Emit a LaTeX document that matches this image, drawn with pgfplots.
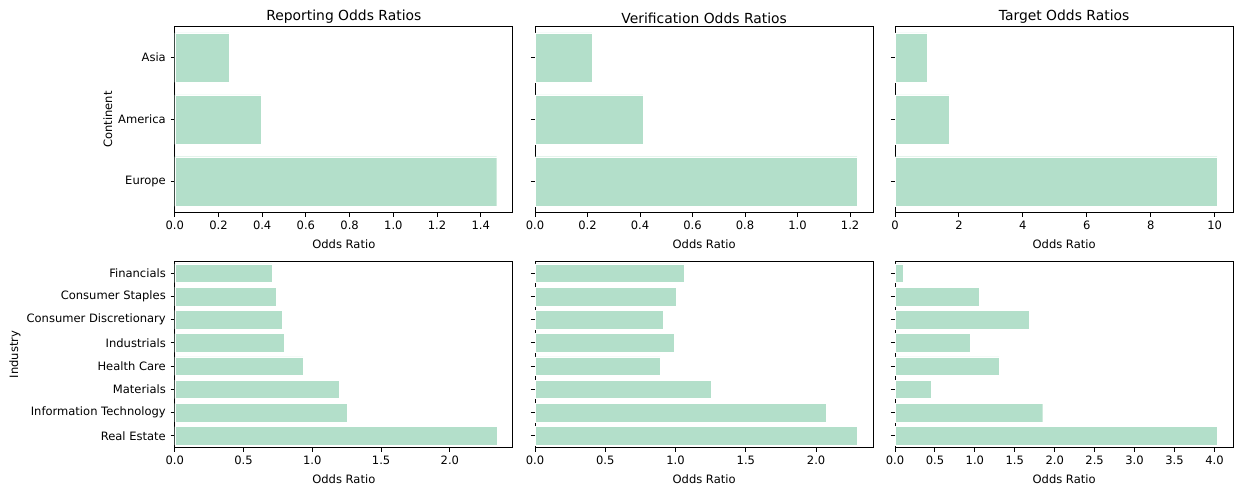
\documentclass[border=0pt]{standalone}
\usepackage{fontspec}
\setmainfont{DejaVu Sans}
\usepackage{pgfplots}
\pgfplotsset{compat=1.18}
\definecolor{barc}{RGB}{179,223,202}
\pgfplotsset{
  orbase/.style={
    scale only axis, width=243.5pt, height=133.8pt,
    anchor=north west,
    xbar, bar width=0.8, bar shift=0pt,
    y dir=reverse,
    xmin=0,
    axis line style={line width=0.67pt, black},
    every tick/.style={line width=0.67pt, black},
    tick align=outside, major tick length=2.9pt,
    xtick pos=left, ytick pos=left,
    ticklabel style={font=\fontsize{8.3}{10}\selectfont},
    label style={font=\fontsize{8.3}{10}\selectfont},
    ylabel style={yshift=-2.5pt},
    title style={font=\fontsize{10}{12}\selectfont, yshift=-7.2pt},
    xlabel={Odds Ratio},
    enlargelimits=false,
  },
  toprow/.style={orbase, ymin=-0.5, ymax=2.5, ytick={0,1,2}},
  botrow/.style={orbase, ymin=-0.5, ymax=7.5, ytick={0,1,2,3,4,5,6,7}},
  barsty/.style={fill=barc, draw=white, line width=0.3pt},
}
\pgfplotstableread{
x y
0.248 0
0.395 1
1.473 2
}\repcont
\pgfplotstableread{
x y
0.217 0
0.411 1
1.227 2
}\vercont
\pgfplotstableread{
x y
1.01 0
1.71 1
10.08 2
}\tarcont
\pgfplotstableread{
x y
0.709 0
0.736 1
0.784 2
0.797 3
0.935 4
1.194 5
1.254 6
2.341 7
}\repind
\pgfplotstableread{
x y
1.063 0
1.006 1
0.914 2
0.989 3
0.890 4
1.257 5
2.071 6
2.291 7
}\verind
\pgfplotstableread{
x y
0.108 0
1.058 1
1.683 2
0.942 3
1.308 4
0.454 5
1.850 6
4.033 7
}\tarind
\begin{document}
\begin{tikzpicture}
\useasboundingbox (0,0) rectangle (889.2pt,-352.1pt);
% top row
\begin{axis}[toprow, at={(125.8pt,-19.2pt)}, title={Reporting Odds Ratios},
  xmax=1.547, xtick={0,0.2,0.4,0.6,0.8,1.0,1.2,1.4},
  xticklabels={0.0,0.2,0.4,0.6,0.8,1.0,1.2,1.4},
  yticklabels={Asia,America,Europe}, ylabel={Continent}]
\addplot[barsty] table[x=x,y=y] {\repcont};
\end{axis}
\begin{axis}[toprow, at={(385.2pt,-19.2pt)}, title={Verification Odds Ratios},
  xmax=1.288, xtick={0,0.2,0.4,0.6,0.8,1.0,1.2},
  xticklabels={0.0,0.2,0.4,0.6,0.8,1.0,1.2},
  yticklabels={}]
\addplot[barsty] table[x=x,y=y] {\vercont};
\end{axis}
\begin{axis}[toprow, at={(644.4pt,-19.2pt)}, title={Target Odds Ratios},
  xmax=10.58, xtick={0,2,4,6,8,10},
  xticklabels={0,2,4,6,8,10},
  yticklabels={}]
\addplot[barsty] table[x=x,y=y] {\tarcont};
\end{axis}
% bottom row
\begin{axis}[botrow, at={(125.8pt,-188.4pt)},
  xmax=2.458, xtick={0,0.5,1.0,1.5,2.0},
  xticklabels={0.0,0.5,1.0,1.5,2.0},
  yticklabels={Financials,Consumer Staples,Consumer Discretionary,Industrials,Health Care,Materials,Information Technology,Real Estate},
  ylabel={Industry}]
\addplot[barsty] table[x=x,y=y] {\repind};
\end{axis}
\begin{axis}[botrow, at={(385.2pt,-188.4pt)},
  xmax=2.406, xtick={0,0.5,1.0,1.5,2.0},
  xticklabels={0.0,0.5,1.0,1.5,2.0},
  yticklabels={}]
\addplot[barsty] table[x=x,y=y] {\verind};
\end{axis}
\begin{axis}[botrow, at={(644.4pt,-188.4pt)},
  xmax=4.235, xtick={0,0.5,1.0,1.5,2.0,2.5,3.0,3.5,4.0},
  xticklabels={0.0,0.5,1.0,1.5,2.0,2.5,3.0,3.5,4.0},
  yticklabels={}]
\addplot[barsty] table[x=x,y=y] {\tarind};
\end{axis}
\end{tikzpicture}
\end{document}
